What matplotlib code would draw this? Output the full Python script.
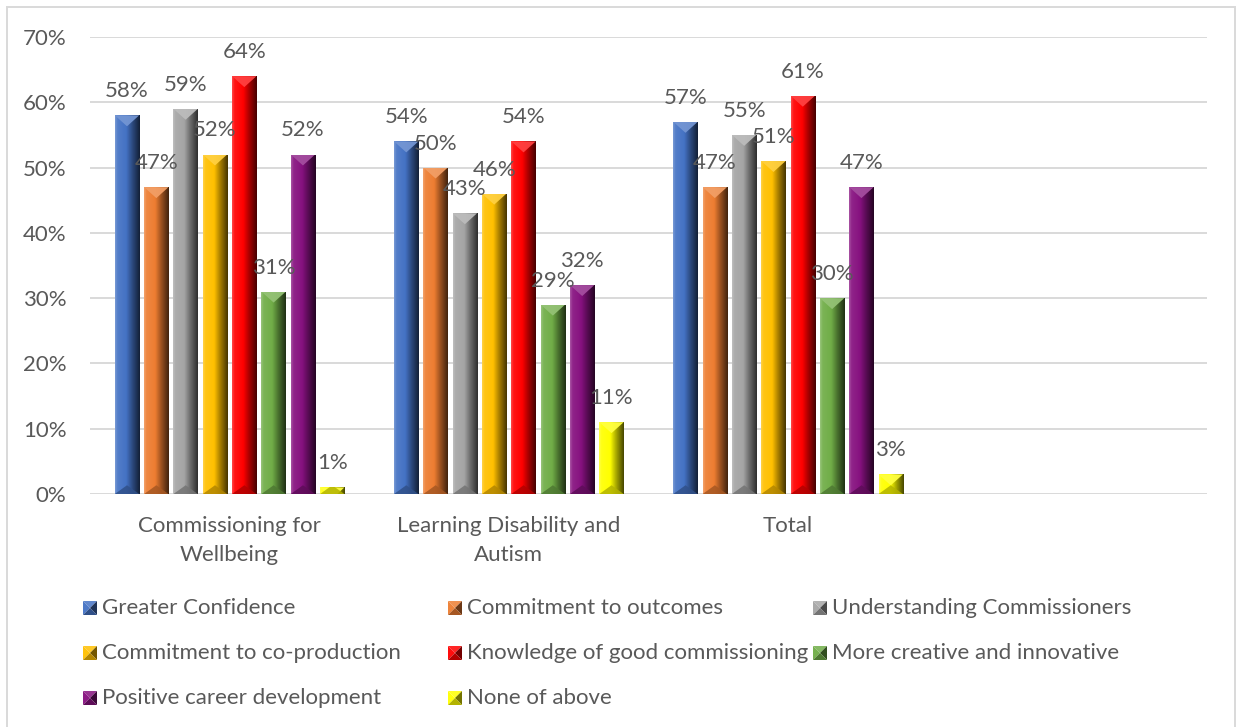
import numpy as np
import matplotlib
matplotlib.use("Agg")
import matplotlib.pyplot as plt
import matplotlib.colors as mcolors
from matplotlib.patches import Polygon, Rectangle

# ---- data -------------------------------------------------------------
categories = ["Commissioning for\nWellbeing", "Learning Disability and\nAutism", "Total"]
series_names = [
    "Greater Confidence",
    "Commitment to outcomes",
    "Understanding Commissioners",
    "Commitment to co-production",
    "Knowledge of good commissioning",
    "More creative and innovative",
    "Positive career development",
    "None of above",
]
greater_confidence = [58, 54, 57]
commitment_outcomes = [47, 50, 47]
understanding_commissioners = [59, 43, 55]
commitment_coproduction = [52, 46, 51]
knowledge_commissioning = [64, 54, 61]
creative_innovative = [31, 29, 30]
career_development = [52, 32, 47]
none_of_above = [1, 11, 3]
series_values = [
    greater_confidence, commitment_outcomes, understanding_commissioners,
    commitment_coproduction, knowledge_commissioning, creative_innovative,
    career_development, none_of_above,
]
y_ticks = [0, 10, 20, 30, 40, 50, 60, 70]

colors = ["#4472C4", "#ED7D31", "#A5A5A5", "#FFC000",
          "#FF0000", "#70AD47", "#86117F", "#FFFF00"]

TEXT = "#595959"
GRID = "#D9D9D9"
FONT = "Lato"
FS = 16

W, H = 1240, 727
fig = plt.figure(figsize=(W / 100, H / 100), dpi=100)
fig.patch.set_facecolor("white")


def fx(px):
    return px / W


def fy(py):
    return 1 - py / H


# plot area in pixels
L, R, T, B = 90, 1207, 37, 494
ax = fig.add_axes([fx(L), fy(B), fx(R - L), (B - T) / H])
ax.set_facecolor("none")


def shade(c, f):
    r = np.array(mcolors.to_rgb(c))
    return tuple(r + (1 - r) * f) if f >= 0 else tuple(r * (1 + f))


def gradient_row(c, n=64):
    stops = [(0.0, 0.28), (0.1, 0.08), (0.45, 0.0), (0.7, -0.35), (1.0, -0.72)]
    t = np.linspace(0, 1, n)
    cols = np.array([shade(c, f) for _, f in stops])
    pos = [p for p, _ in stops]
    row = np.stack([np.interp(t, pos, cols[:, k]) for k in range(3)], axis=-1)
    return row[None, :, :]


n_series = len(series_values)
step = 0.105
bar_w = 0.087
x_base = np.arange(len(categories))
XMIN, XMAX, YMIN, YMAX = -0.5, 3.5, 0, 70

ax.set_xlim(XMIN, XMAX)
ax.set_ylim(YMIN, YMAX)

px_per_x = (R - L) / (XMAX - XMIN)
data_per_px_y = (YMAX - YMIN) / (B - T)

for i, (vals, col) in enumerate(zip(series_values, colors)):
    xs = x_base + (i - (n_series - 1) / 2) * step
    bars = ax.bar(xs, vals, width=bar_w, color=col, zorder=2, linewidth=0)
    grad = gradient_row(col)
    for patch, v in zip(bars.patches, vals):
        x0, w, h = patch.get_x(), patch.get_width(), patch.get_height()
        im = ax.imshow(grad, extent=(x0, x0 + w, 0, h), aspect="auto",
                       interpolation="bilinear", origin="lower", zorder=2.1)
        im.set_clip_path(patch)
        d = (w * px_per_x) * 0.45 * data_per_px_y
        top = Polygon([(x0, h), (x0 + w, h), (x0 + w / 2, h - d)],
                      closed=True, facecolor=shade(col, 0.25), edgecolor="none",
                      alpha=0.95, zorder=2.2)
        ax.add_patch(top)
        top.set_clip_path(patch)
        bot = Polygon([(x0, 0), (x0 + w, 0), (x0 + w / 2, d * 0.8)],
                      closed=True, facecolor=shade(col, -0.3), edgecolor="none",
                      alpha=0.85, zorder=2.2)
        ax.add_patch(bot)
        bot.set_clip_path(patch)
        ax.annotate(f"{v}%", (x0 + w / 2, h), xytext=(0, 17.3),
                    textcoords="offset points", ha="center", va="center",
                    fontsize=FS, color=TEXT, family=FONT, zorder=3)

ax.set_xlim(XMIN, XMAX)
ax.set_ylim(YMIN, YMAX)

# axes styling
for s in ax.spines.values():
    s.set_visible(False)
ax.set_yticks(y_ticks)
ax.set_yticklabels([f"{t}%" for t in y_ticks])
ax.yaxis.grid(True, color=GRID, linewidth=1.4, zorder=0)
ax.set_axisbelow(True)
ax.tick_params(axis="y", length=0, pad=17, labelsize=FS, labelcolor=TEXT)
ax.set_xticks(x_base)
ax.set_xticklabels(categories, linespacing=1.55)
ax.tick_params(axis="x", length=0, pad=16, labelsize=FS, labelcolor=TEXT)
for lab in ax.get_xticklabels() + ax.get_yticklabels():
    lab.set_family(FONT)

# legend with bevelled square keys, three equal-width columns
col_x = [83, 448, 813]
row_y = [608, 653, 698]
key = 14
for i, (name, col) in enumerate(zip(series_names, colors)):
    r, c = divmod(i, 3)
    kx, ky = col_x[c], row_y[r]
    x0, x1 = fx(kx), fx(kx + key)
    y0, y1 = fy(ky + key / 2), fy(ky - key / 2)
    xm, ym = (x0 + x1) / 2, (y0 + y1) / 2
    faces = [
        ([(x0, y1), (x1, y1), (xm, ym)], shade(col, 0.15)),   # top
        ([(x0, y0), (x0, y1), (xm, ym)], shade(col, 0.05)),   # left
        ([(x1, y0), (x1, y1), (xm, ym)], shade(col, -0.55)),  # right
        ([(x0, y0), (x1, y0), (xm, ym)], shade(col, -0.3)),   # bottom
    ]
    for pts, fc in faces:
        fig.add_artist(Polygon(pts, closed=True, facecolor=fc, edgecolor="none",
                               transform=fig.transFigure))
    fig.text(fx(kx + key + 5), fy(ky), name, ha="left", va="center",
             fontsize=FS, color=TEXT, family=FONT)

# chart area border
fig.add_artist(Rectangle((fx(7), fy(740)), fx(1235 - 7), (740 - 7) / H,
                         transform=fig.transFigure, facecolor="none",
                         edgecolor=GRID, linewidth=1.4))

fig.savefig("out.png", dpi=100, facecolor="white")
